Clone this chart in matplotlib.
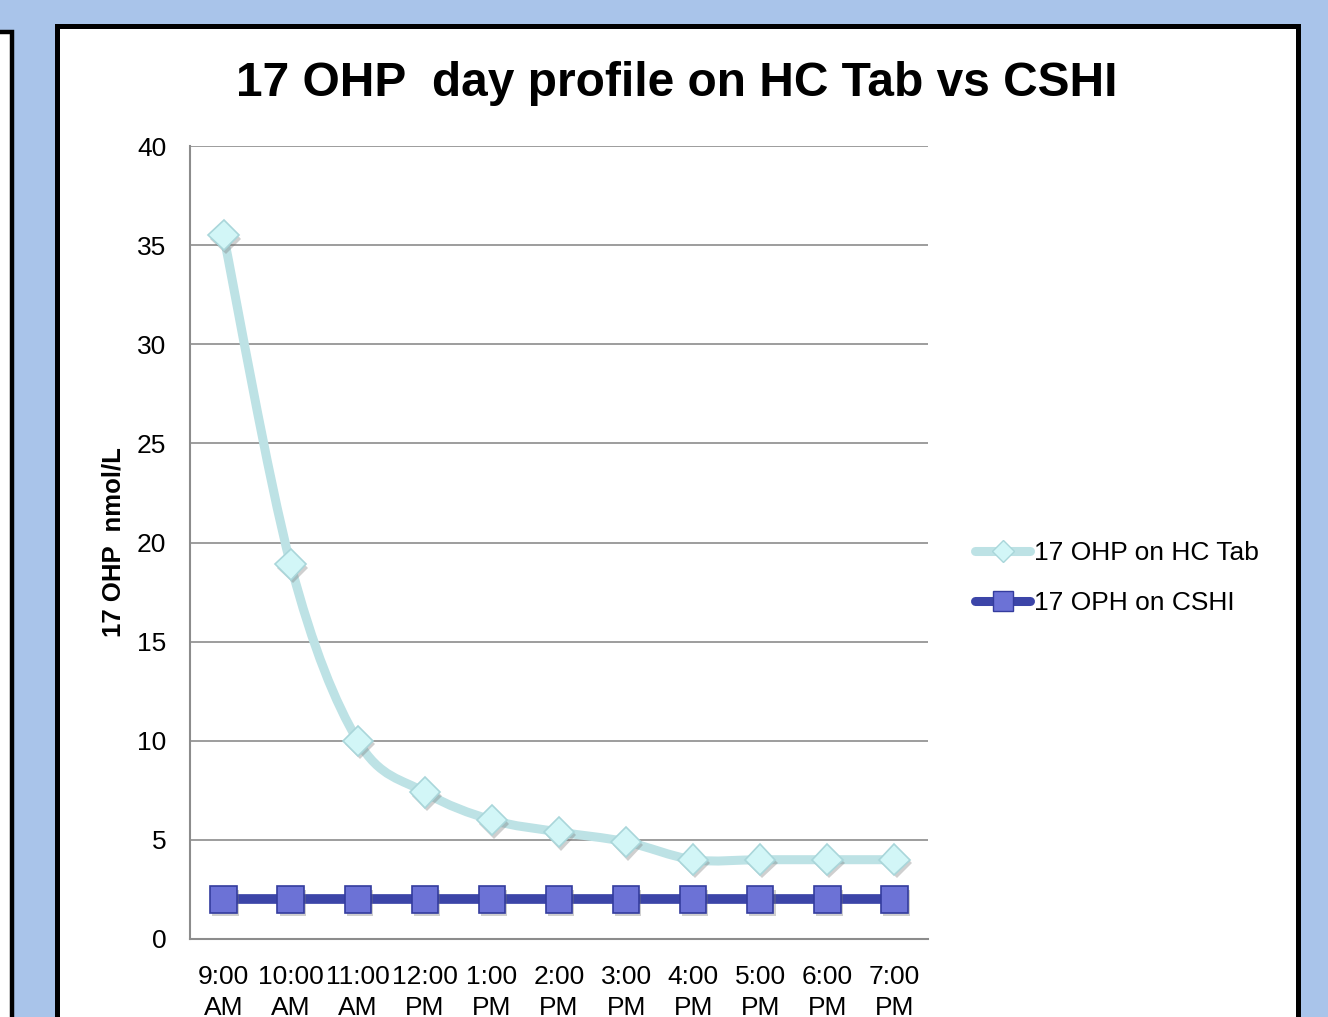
import numpy as np
import matplotlib
matplotlib.use("Agg")
import matplotlib.pyplot as plt
import matplotlib.patheffects as pe
from matplotlib.lines import Line2D
from matplotlib.patches import Rectangle, PathPatch
from matplotlib.path import Path

plt.rcParams['font.family'] = ['Liberation Sans', 'DejaVu Sans']

times = ['9:00\nAM', '10:00\nAM', '11:00\nAM', '12:00\nPM', '1:00\nPM', '2:00\nPM',
         '3:00\nPM', '4:00\nPM', '5:00\nPM', '6:00\nPM', '7:00\nPM']
hc_tab = [35.5, 18.9, 10.0, 7.4, 6.0, 5.4, 4.9, 4.0, 4.0, 4.0, 4.0]
cshi = [2, 2, 2, 2, 2, 2, 2, 2, 2, 2, 2]
yticks = [0, 5, 10, 15, 20, 25, 30, 35, 40]

W, H = 1328, 1017
bg = '#A9C4EA'
hc_line = '#BDE2E5'
hc_face = '#D2F6F7'
hc_edge = '#A9D6DA'
cs_line = '#3C45A8'
cs_face = '#6C72D6'
cs_edge = '#343C9E'


def smooth_path(xs, ys):
    # bezier segments through the points, like a spreadsheet "smoothed line"
    pts = np.column_stack([xs, ys]).astype(float)
    n = len(pts)
    verts = [pts[0]]
    codes = [Path.MOVETO]
    for i in range(n - 1):
        p0 = pts[max(i - 1, 0)]
        p1 = pts[i]
        p2 = pts[i + 1]
        p3 = pts[min(i + 2, n - 1)]
        c1 = p1 + (p2 - p0) / 6.0
        c2 = p2 - (p3 - p1) / 6.0
        verts += [c1, c2, p2]
        codes += [Path.CURVE4] * 3
    return Path(verts, codes)


fig = plt.figure(figsize=(W / 100, H / 100), dpi=100)
fig.patch.set_facecolor(bg)

# white slide panels with black frames
fig.patches.append(Rectangle((-20 / W, -0.1), 32 / W, 1.1 - 32 / H, transform=fig.transFigure,
                             facecolor='white', edgecolor='black', lw=3.2, zorder=-5))
fig.patches.append(Rectangle((57.5 / W, -0.1), 1240 / W, 1.1 - 25.5 / H, transform=fig.transFigure,
                             facecolor='white', edgecolor='black', lw=3.6, zorder=-5))

ax = fig.add_axes([190 / W, (H - 939) / H, 738 / W, 793 / H])
ax.set_facecolor('none')
x = np.arange(len(times))

shadow = [pe.SimplePatchShadow(offset=(1.5, -2.5), shadow_rgbFace='#777777', alpha=0.35), pe.Normal()]

ax.add_patch(PathPatch(smooth_path(x, hc_tab), facecolor='none', edgecolor=hc_line,
                       lw=6.5, capstyle='round', joinstyle='round', zorder=3))
ax.plot(x, hc_tab, linestyle='none', marker='D', markersize=15.5, markerfacecolor=hc_face,
        markeredgecolor=hc_edge, markeredgewidth=1.2, zorder=4, path_effects=shadow)

ax.plot(x, cshi, color=cs_line, lw=7, solid_capstyle='round', zorder=5)
ax.plot(x, cshi, linestyle='none', marker='s', markersize=19, markerfacecolor=cs_face,
        markeredgecolor=cs_edge, markeredgewidth=1.2, zorder=6, path_effects=shadow)

ax.set_xlim(-0.5, len(times) - 0.5)
ax.set_ylim(0, 40)
ax.set_yticks(yticks)
ax.set_xticks(x)
ax.set_xticklabels(times, fontsize=19, linespacing=1.35)
ax.tick_params(axis='both', length=0, labelsize=19)
ax.tick_params(axis='y', pad=17)
ax.tick_params(axis='x', pad=19)
ax.grid(axis='y', color='#8C8C8C', lw=1.2, zorder=1)
ax.set_axisbelow(True)
for s in ['top', 'right']:
    ax.spines[s].set_visible(False)
for s in ['left', 'bottom']:
    ax.spines[s].set_color('#8C8C8C')
    ax.spines[s].set_linewidth(1.5)

ax.set_ylabel('17 OHP  nmol/L', fontsize=18.5, fontweight='bold', labelpad=8)

fig.text(677 / W, 1 - 84 / H, '17 OHP  day profile on HC Tab vs CSHI', ha='center', va='center',
         fontsize=34.5, fontweight='bold')

handles = [
    Line2D([], [], color=hc_line, lw=6.5, marker='D', markersize=11, markerfacecolor=hc_face,
           markeredgecolor=hc_edge, solid_capstyle='round'),
    Line2D([], [], color=cs_line, lw=6.5, marker='s', markersize=14, markerfacecolor=cs_face,
           markeredgecolor=cs_edge, solid_capstyle='round'),
]
fig.legend(handles, ['17 OHP on HC Tab', '17 OPH on CSHI'], loc='center left',
           bbox_to_anchor=(975 / W, 1 - 578 / H), frameon=False, fontsize=19,
           handlelength=2.1, handletextpad=0.12, labelspacing=1.0, borderaxespad=0,
           borderpad=0)

fig.savefig('out.png', dpi=100, facecolor=fig.get_facecolor())
